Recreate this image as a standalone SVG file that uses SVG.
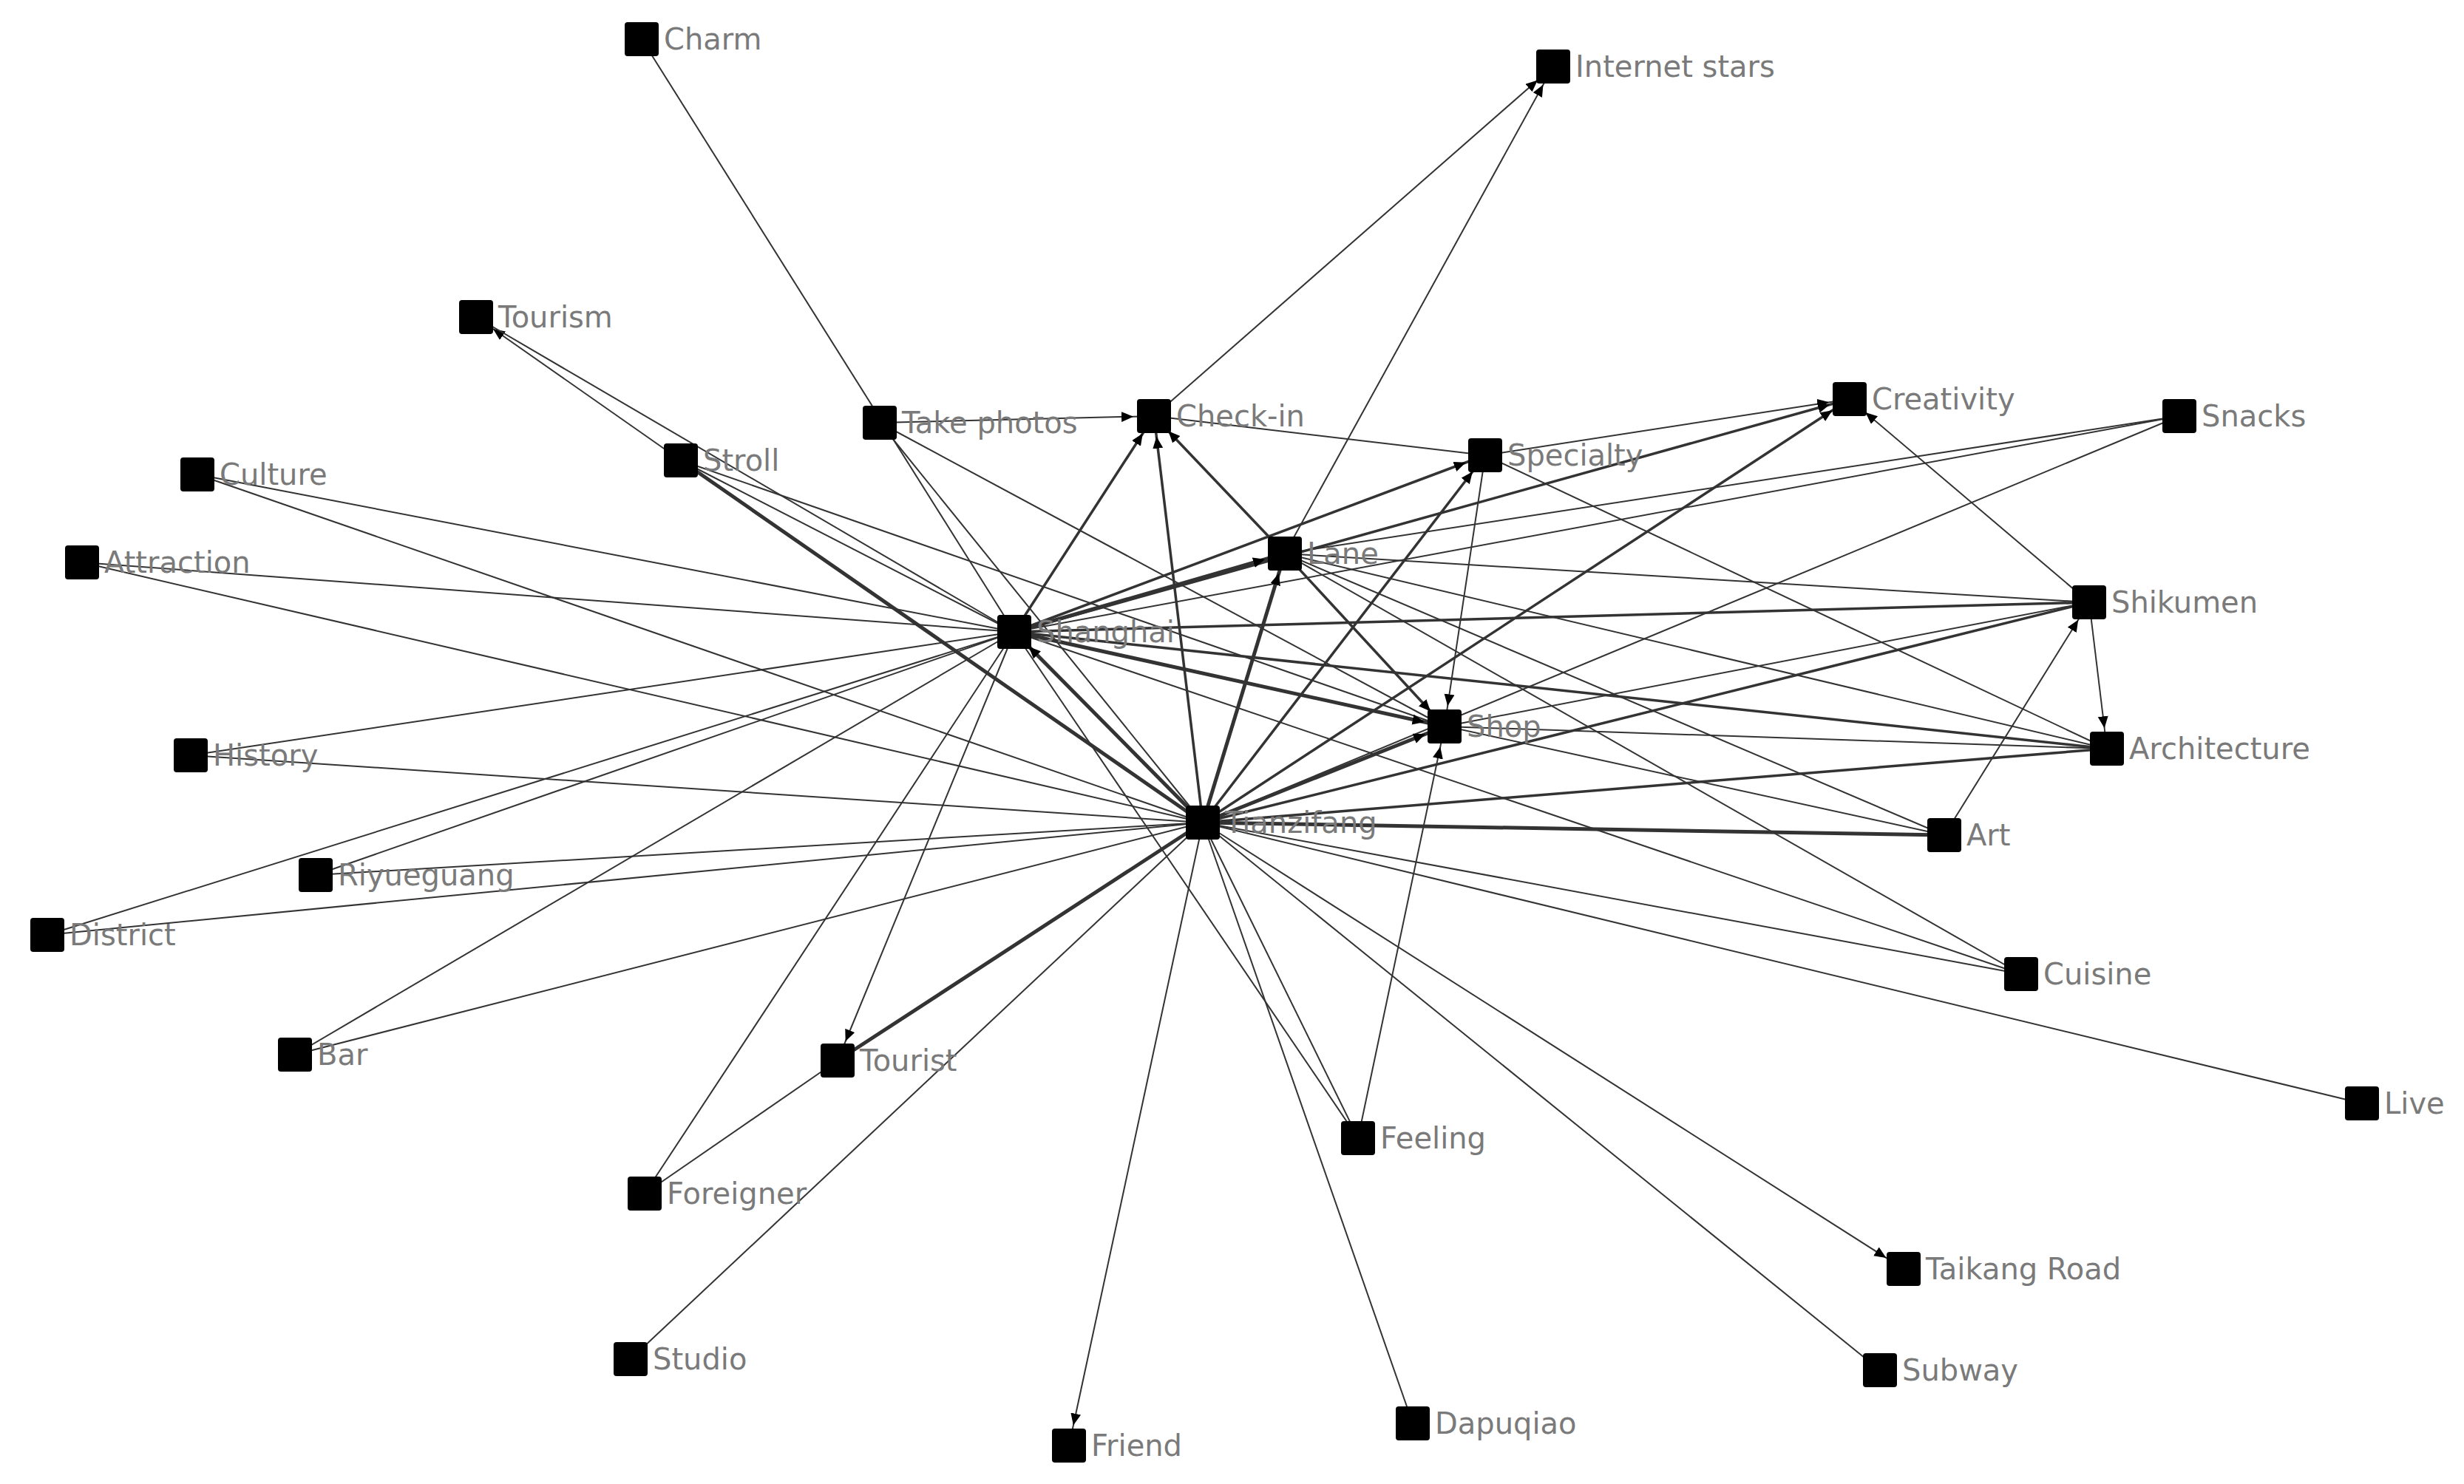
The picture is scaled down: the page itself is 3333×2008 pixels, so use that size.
<svg xmlns="http://www.w3.org/2000/svg" width="3333" height="2008" viewBox="0 0 3333 2008">
<style>
.e{stroke:#333;stroke-width:2;fill:none}
.t{stroke-width:5}
.m{stroke-width:3.5}
.a{marker-end:url(#ah)}
.n rect{fill:#000}
.n text{font-family:"DejaVu Sans",Verdana,sans-serif;font-size:40px;fill:#7a7a7a}
</style>
<defs>
<marker id="ah" markerUnits="userSpaceOnUse" markerWidth="60" markerHeight="20" refX="44" refY="7" orient="auto"><path d="M0,0 L16,7 L0,14 Z" fill="#000"/></marker>
</defs>
<rect width="3333" height="2008" fill="#fff"/>
<g id="edges">
<line class="e" x1="868" y1="53" x2="1372" y2="855"/>
<line class="e a" x1="1561" y1="563" x2="2101" y2="90"/>
<line class="e a" x1="1738" y1="749" x2="2101" y2="90"/>
<line class="e a" x1="921" y1="623" x2="644" y2="429"/>
<line class="e" x1="644" y1="429" x2="1372" y2="855"/>
<line class="e a" x1="1190" y1="572" x2="1561" y2="563"/>
<line class="e" x1="1190" y1="572" x2="1627" y2="1113"/>
<line class="e" x1="1190" y1="572" x2="1954" y2="983"/>
<line class="e" x1="1561" y1="563" x2="2009" y2="616"/>
<line class="e m a" x1="1372" y1="855" x2="1561" y2="563"/>
<line class="e m a" x1="1627" y1="1113" x2="1561" y2="563"/>
<line class="e m a" x1="1738" y1="749" x2="1561" y2="563"/>
<line class="e" x1="921" y1="623" x2="1372" y2="855"/>
<line class="e t" x1="921" y1="623" x2="1627" y2="1113"/>
<line class="e" x1="921" y1="623" x2="1954" y2="983"/>
<line class="e" x1="267" y1="642" x2="1372" y2="855"/>
<line class="e" x1="267" y1="642" x2="1627" y2="1113"/>
<line class="e" x1="111" y1="761" x2="1372" y2="855"/>
<line class="e" x1="111" y1="761" x2="1627" y2="1113"/>
<line class="e" x1="258" y1="1022" x2="1372" y2="855"/>
<line class="e" x1="258" y1="1022" x2="1627" y2="1113"/>
<line class="e" x1="427" y1="1184" x2="1372" y2="855"/>
<line class="e" x1="427" y1="1184" x2="1627" y2="1113"/>
<line class="e" x1="64" y1="1265" x2="1372" y2="855"/>
<line class="e" x1="64" y1="1265" x2="1627" y2="1113"/>
<line class="e" x1="399" y1="1427" x2="1372" y2="855"/>
<line class="e" x1="399" y1="1427" x2="1627" y2="1113"/>
<line class="e" x1="872" y1="1615" x2="1372" y2="855"/>
<line class="e" x1="872" y1="1615" x2="1133" y2="1435"/>
<line class="e" x1="853" y1="1839" x2="1627" y2="1113"/>
<line class="e a" x1="1372" y1="855" x2="1133" y2="1435"/>
<line class="e t" x1="1133" y1="1435" x2="1627" y2="1113"/>
<line class="e a" x1="1627" y1="1113" x2="1446" y2="1956"/>
<line class="e" x1="1837" y1="1540" x2="1372" y2="855"/>
<line class="e" x1="1837" y1="1540" x2="1627" y2="1113"/>
<line class="e a" x1="1837" y1="1540" x2="1954" y2="983"/>
<line class="e" x1="1911" y1="1926" x2="1627" y2="1113"/>
<line class="e" x1="2543" y1="1854" x2="1627" y2="1113"/>
<line class="e a" x1="1627" y1="1113" x2="2575" y2="1717"/>
<line class="e" x1="3195" y1="1493" x2="1627" y2="1113"/>
<line class="e" x1="2734" y1="1318" x2="1627" y2="1113"/>
<line class="e" x1="2734" y1="1318" x2="1372" y2="855"/>
<line class="e" x1="2734" y1="1318" x2="1738" y2="749"/>
<line class="e t" x1="2630" y1="1130" x2="1627" y2="1113"/>
<line class="e" x1="2630" y1="1130" x2="1372" y2="855"/>
<line class="e a" x1="2630" y1="1130" x2="2826" y2="815"/>
<line class="e" x1="2630" y1="1130" x2="1738" y2="749"/>
<line class="e m" x1="2850" y1="1013" x2="1627" y2="1113"/>
<line class="e m" x1="2850" y1="1013" x2="1372" y2="855"/>
<line class="e" x1="2850" y1="1013" x2="1954" y2="983"/>
<line class="e" x1="2850" y1="1013" x2="2009" y2="616"/>
<line class="e" x1="2850" y1="1013" x2="1738" y2="749"/>
<line class="e a" x1="2826" y1="815" x2="2850" y2="1013"/>
<line class="e m" x1="2826" y1="815" x2="1372" y2="855"/>
<line class="e m" x1="2826" y1="815" x2="1627" y2="1113"/>
<line class="e" x1="2826" y1="815" x2="1954" y2="983"/>
<line class="e" x1="2826" y1="815" x2="1738" y2="749"/>
<line class="e a" x1="2826" y1="815" x2="2502" y2="540"/>
<line class="e" x1="2948" y1="563" x2="1372" y2="855"/>
<line class="e" x1="2948" y1="563" x2="1627" y2="1113"/>
<line class="e" x1="2948" y1="563" x2="1738" y2="749"/>
<line class="e a" x1="2009" y1="616" x2="2502" y2="540"/>
<line class="e m a" x1="1627" y1="1113" x2="2502" y2="540"/>
<line class="e m a" x1="1372" y1="855" x2="2502" y2="540"/>
<line class="e m a" x1="1627" y1="1113" x2="2009" y2="616"/>
<line class="e m a" x1="1372" y1="855" x2="2009" y2="616"/>
<line class="e a" x1="2009" y1="616" x2="1954" y2="983"/>
<line class="e t a" x1="1627" y1="1113" x2="1738" y2="749"/>
<line class="e t a" x1="1372" y1="855" x2="1738" y2="749"/>
<line class="e m a" x1="1738" y1="749" x2="1954" y2="983"/>
<line class="e t a" x1="1372" y1="855" x2="1954" y2="983"/>
<line class="e t a" x1="1627" y1="1113" x2="1954" y2="983"/>
<line class="e t a" x1="1627" y1="1113" x2="1372" y2="855"/>
</g>
<g id="n-charm" class="n"><rect x="845" y="30" width="46" height="46" rx="4"/><text x="898" y="67">Charm</text></g>
<g id="n-internet" class="n"><rect x="2078" y="67" width="46" height="46" rx="4"/><text x="2131" y="104">Internet stars</text></g>
<g id="n-tourism" class="n"><rect x="621" y="406" width="46" height="46" rx="4"/><text x="674" y="443">Tourism</text></g>
<g id="n-takephotos" class="n"><rect x="1167" y="549" width="46" height="46" rx="4"/><text x="1220" y="586">Take photos</text></g>
<g id="n-checkin" class="n"><rect x="1538" y="540" width="46" height="46" rx="4"/><text x="1591" y="577">Check-in</text></g>
<g id="n-creativity" class="n"><rect x="2479" y="517" width="46" height="46" rx="4"/><text x="2532" y="554">Creativity</text></g>
<g id="n-snacks" class="n"><rect x="2925" y="540" width="46" height="46" rx="4"/><text x="2978" y="577">Snacks</text></g>
<g id="n-specialty" class="n"><rect x="1986" y="593" width="46" height="46" rx="4"/><text x="2039" y="630">Specialty</text></g>
<g id="n-stroll" class="n"><rect x="898" y="600" width="46" height="46" rx="4"/><text x="951" y="637">Stroll</text></g>
<g id="n-culture" class="n"><rect x="244" y="619" width="46" height="46" rx="4"/><text x="297" y="656">Culture</text></g>
<g id="n-attraction" class="n"><rect x="88" y="738" width="46" height="46" rx="4"/><text x="141" y="775">Attraction</text></g>
<g id="n-lane" class="n"><rect x="1715" y="726" width="46" height="46" rx="4"/><text x="1768" y="763">Lane</text></g>
<g id="n-shanghai" class="n"><rect x="1349" y="832" width="46" height="46" rx="4"/><text x="1402" y="869">Shanghai</text></g>
<g id="n-shikumen" class="n"><rect x="2803" y="792" width="46" height="46" rx="4"/><text x="2856" y="829">Shikumen</text></g>
<g id="n-shop" class="n"><rect x="1931" y="960" width="46" height="46" rx="4"/><text x="1984" y="997">Shop</text></g>
<g id="n-architecture" class="n"><rect x="2827" y="990" width="46" height="46" rx="4"/><text x="2880" y="1027">Architecture</text></g>
<g id="n-history" class="n"><rect x="235" y="999" width="46" height="46" rx="4"/><text x="288" y="1036">History</text></g>
<g id="n-tianzifang" class="n"><rect x="1604" y="1090" width="46" height="46" rx="4"/><text x="1657" y="1127">Tianzifang</text></g>
<g id="n-art" class="n"><rect x="2607" y="1107" width="46" height="46" rx="4"/><text x="2660" y="1144">Art</text></g>
<g id="n-riyueguang" class="n"><rect x="404" y="1161" width="46" height="46" rx="4"/><text x="457" y="1198">Riyueguang</text></g>
<g id="n-district" class="n"><rect x="41" y="1242" width="46" height="46" rx="4"/><text x="94" y="1279">District</text></g>
<g id="n-cuisine" class="n"><rect x="2711" y="1295" width="46" height="46" rx="4"/><text x="2764" y="1332">Cuisine</text></g>
<g id="n-bar" class="n"><rect x="376" y="1404" width="46" height="46" rx="4"/><text x="429" y="1441">Bar</text></g>
<g id="n-tourist" class="n"><rect x="1110" y="1412" width="46" height="46" rx="4"/><text x="1163" y="1449">Tourist</text></g>
<g id="n-live" class="n"><rect x="3172" y="1470" width="46" height="46" rx="4"/><text x="3225" y="1507">Live</text></g>
<g id="n-feeling" class="n"><rect x="1814" y="1517" width="46" height="46" rx="4"/><text x="1867" y="1554">Feeling</text></g>
<g id="n-foreigner" class="n"><rect x="849" y="1592" width="46" height="46" rx="4"/><text x="902" y="1629">Foreigner</text></g>
<g id="n-taikang" class="n"><rect x="2552" y="1694" width="46" height="46" rx="4"/><text x="2605" y="1731">Taikang Road</text></g>
<g id="n-studio" class="n"><rect x="830" y="1816" width="46" height="46" rx="4"/><text x="883" y="1853">Studio</text></g>
<g id="n-subway" class="n"><rect x="2520" y="1831" width="46" height="46" rx="4"/><text x="2573" y="1868">Subway</text></g>
<g id="n-dapuqiao" class="n"><rect x="1888" y="1903" width="46" height="46" rx="4"/><text x="1941" y="1940">Dapuqiao</text></g>
<g id="n-friend" class="n"><rect x="1423" y="1933" width="46" height="46" rx="4"/><text x="1476" y="1970">Friend</text></g>
</svg>
